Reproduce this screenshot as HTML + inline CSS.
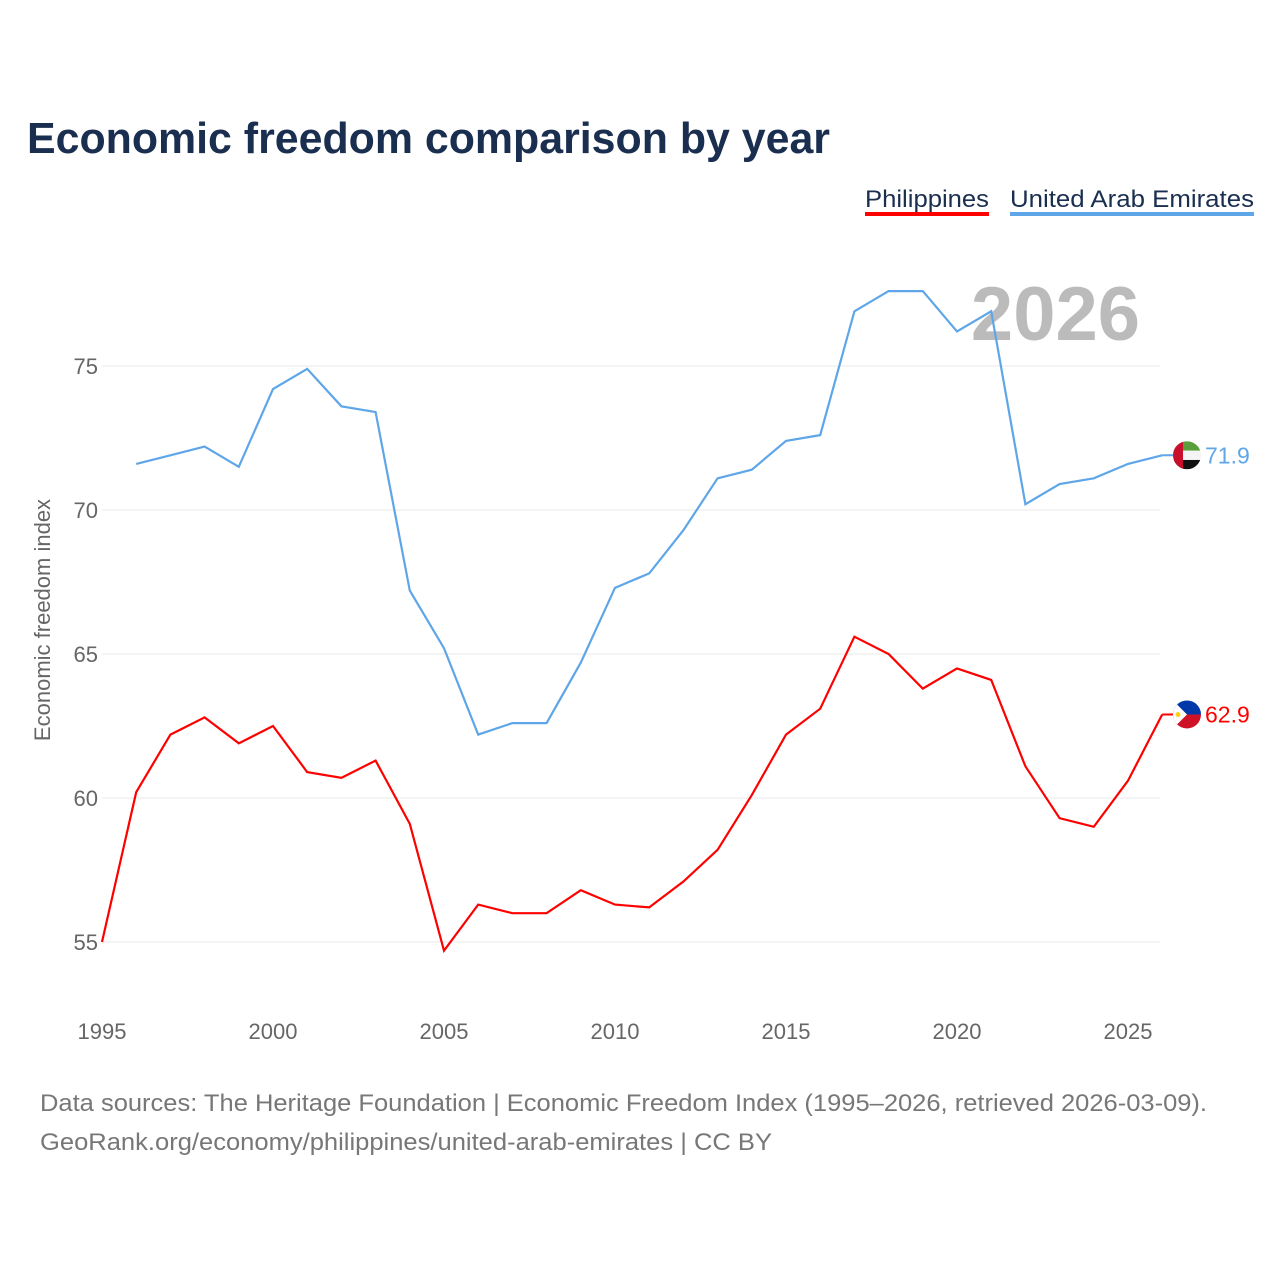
<!DOCTYPE html>
<html><head><meta charset="utf-8"><style>
body{margin:0;background:#fff;font-family:"Liberation Sans",sans-serif;}
svg text{font-family:"Liberation Sans",sans-serif;}
</style></head><body>
<svg width="1280" height="1280" viewBox="0 0 1280 1280" id="chart">
<rect width="1280" height="1280" fill="#fff"/>
<text x="27" y="153" font-size="44" font-weight="bold" fill="#1a2e4f" textLength="803" lengthAdjust="spacingAndGlyphs">Economic freedom comparison by year</text>
<g>
<text x="865" y="207" font-size="24" fill="#1a2e4f" textLength="124" lengthAdjust="spacingAndGlyphs">Philippines</text>
<rect x="865" y="212" width="124" height="4" fill="#f00"/></g>
<g>
<text x="1010" y="207" font-size="24" fill="#1a2e4f" textLength="244" lengthAdjust="spacingAndGlyphs">United Arab Emirates</text>
<rect x="1010" y="212" width="244" height="4" fill="#5ea6e8"/></g>
<text x="1140" y="340" font-size="76" font-weight="bold" fill="#bbb" text-anchor="end">2026</text>
<text transform="translate(50,620) rotate(-90)" font-size="22" fill="#666" text-anchor="middle">Economic freedom index</text>
<g id="grid"></g><g id="lines"></g><g id="labels"></g>
<text x="40" y="1111" font-size="24" fill="#777" textLength="1167" lengthAdjust="spacingAndGlyphs">Data sources: The Heritage Foundation | Economic Freedom Index (1995–2026, retrieved 2026-03-09).</text>
<text x="40" y="1150" font-size="24" fill="#777" textLength="732" lengthAdjust="spacingAndGlyphs">GeoRank.org/economy/philippines/united-arab-emirates | CC BY</text>
</svg>
<script>
const years=[1995,1996,1997,1998,1999,2000,2001,2002,2003,2004,2005,2006,2007,2008,2009,2010,2011,2012,2013,2014,2015,2016,2017,2018,2019,2020,2021,2022,2023,2024,2025,2026];
const phl=[55.0,60.2,62.2,62.8,61.9,62.5,60.9,60.7,61.3,59.1,54.7,56.3,56.0,56.0,56.8,56.3,56.2,57.1,58.2,60.1,62.2,63.1,65.6,65.0,63.8,64.5,64.1,61.1,59.3,59.0,60.6,62.9];
const uae=[null,71.6,71.9,72.2,71.5,74.2,74.9,73.6,73.4,67.2,65.2,62.2,62.6,62.6,64.7,67.3,67.8,69.3,71.1,71.4,72.4,72.6,76.9,77.6,77.6,76.2,76.9,70.2,70.9,71.1,71.6,71.9];
const yTicks=[55,60,65,70,75];
const xTicks=[1995,2000,2005,2010,2015,2020,2025];
const NS='http://www.w3.org/2000/svg';
const X=y=>102+(y-1995)*34.2;
const Y=v=>942-(v-55)*28.8;
function mk(t,a,p,txt){const e=document.createElementNS(NS,t);for(const k in a)e.setAttribute(k,a[k]);if(txt!=null)e.textContent=txt;p.appendChild(e);return e;}
const grid=document.getElementById('grid'),lines=document.getElementById('lines'),labels=document.getElementById('labels');
yTicks.forEach(v=>{
 const l=mk('line',{x1:102,x2:1160,y1:Y(v),y2:Y(v),stroke:'#e8e8e8','stroke-width':1},grid);
 
 
 const t=mk('text',{x:98,y:Y(v)+8,'font-size':22,fill:'#666','text-anchor':'end'},grid,String(v));
 
 
});
xTicks.forEach(v=>{
 const t=mk('text',{x:X(v),y:1039,'font-size':22,fill:'#666','text-anchor':'middle'},grid,String(v));
 
 
});
function path(vals){let d='';vals.forEach((v,i)=>{if(v==null)return;d+=(d?'L':'M')+X(years[i]).toFixed(1)+','+Y(v).toFixed(1);});return d;}
const p1=mk('path',{d:path(uae),fill:'none',stroke:'#5ea6e8','stroke-width':2.2},lines);


const p2=mk('path',{d:path(phl),fill:'none',stroke:'#f00','stroke-width':2.2},lines);


const last=years.length-1;
let uy=Y(uae[last]),cx=1187;
mk('line',{x1:X(years[last]),x2:cx,y1:uy,y2:uy,stroke:'#5ea6e8','stroke-width':2},labels);
const cu=mk('clipPath',{id:'cu'},labels);mk('circle',{cx:cx,cy:uy,r:14},cu);
const fu=mk('g',{'clip-path':'url(#cu)'},labels);


mk('rect',{x:cx-14,y:uy-14,width:28,height:9.4,fill:'#5a9e3a'},fu);
mk('rect',{x:cx-14,y:uy-4.6,width:28,height:9.3,fill:'#f4f4f4'},fu);
mk('rect',{x:cx-14,y:uy+4.7,width:28,height:9.4,fill:'#111'},fu);
mk('rect',{x:cx-14,y:uy-14,width:10,height:28,fill:'#c8102e'},fu);
const tu=mk('text',{x:1205,y:uy+8,'font-size':23,fill:'#5ea6e8'},labels,uae[last].toFixed(1));


let py=Y(phl[last]);
mk('line',{x1:X(years[last]),x2:cx,y1:py,y2:py,stroke:'#f00','stroke-width':2},labels);
const cp=mk('clipPath',{id:'cp'},labels);mk('circle',{cx:cx,cy:py,r:14},cp);
const fp=mk('g',{'clip-path':'url(#cp)'},labels);


mk('rect',{x:cx-14,y:py-14,width:28,height:14,fill:'#0038a8'},fp);
mk('rect',{x:cx-14,y:py,width:28,height:14,fill:'#ce1126'},fp);
mk('polygon',{points:`${cx-14},${py-14} ${cx},${py} ${cx-14},${py+14}`,fill:'#fff'},fp);
mk('circle',{cx:cx-9,cy:py,r:2.5,fill:'#fcd116'},fp);
const tp=mk('text',{x:1205,y:py+8,'font-size':23,fill:'#f00'},labels,phl[last].toFixed(1));


</script>
</body></html>
